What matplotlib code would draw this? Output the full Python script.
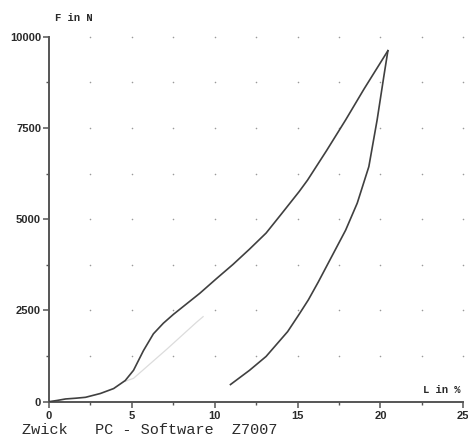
import numpy as np
import matplotlib
matplotlib.use("Agg")
import matplotlib.pyplot as plt
from matplotlib.ticker import MultipleLocator

# Elongation L in %, force F in N
load_x = [0.0, 0.5, 1.0, 1.6, 2.2, 3.1, 3.9, 4.6, 5.1, 5.7, 6.3, 6.9, 7.5, 8.3,
          9.1, 10.1, 11.1, 12.1, 13.1, 14.0, 15.1, 15.6, 16.75, 17.9, 19.0, 20.45]
load_f = [0, 35, 75, 95, 120, 225, 360, 580, 860, 1400, 1860, 2150, 2390, 2680,
          2970, 3370, 3760, 4180, 4620, 5130, 5760, 6070, 6880, 7720, 8560, 9616]

unload_x = [20.45, 20.2, 19.8, 19.3, 18.6, 17.9, 16.25, 15.65, 15.1, 14.4,
            13.1, 12.1, 10.95]
unload_f = [9616, 8900, 7720, 6440, 5440, 4700, 3280, 2790, 2400, 1920,
            1240, 860, 470]

# faint secant line in the elastic region
secant_x = [4.6, 5.1, 7.1, 8.9, 9.3]
secant_f = [560, 640, 1435, 2176, 2330]

y_ticks = [0, 2500, 5000, 7500, 10000]
x_ticks = [0, 5, 10, 15, 20, 25]

fig = plt.figure(figsize=(4.68, 4.37), dpi=100)
ax = fig.add_axes([49 / 468, 1 - 401.7 / 437, (463.3 - 49) / 468, (401.7 - 36.7) / 437])
ax.set_xlim(0, 25)
ax.set_ylim(0, 10000)

line_col = "#404040"
ax.plot(secant_x, secant_f, color="#dcdcdc", lw=0.9, zorder=2)
ax.plot(load_x, load_f, color=line_col, lw=1.2, zorder=3, solid_joinstyle="round")
ax.plot(unload_x, unload_f, color=line_col, lw=1.2, zorder=3, solid_joinstyle="round")

# dotted grid: one dot per grid crossing
gx, gy = np.meshgrid(np.arange(2.5, 25.01, 2.5), np.arange(1250, 10000.1, 1250))
ax.scatter(gx.ravel(), gy.ravel(), s=1.3, color="#9a9a9a", lw=0, zorder=1, clip_on=False)

for s in ["top", "right"]:
    ax.spines[s].set_visible(False)
for s in ["left", "bottom"]:
    ax.spines[s].set_color("#555555")
    ax.spines[s].set_linewidth(1.4)

ax.set_xticks(x_ticks)
ax.set_yticks(y_ticks)
ax.set_yticklabels([str(v) for v in y_ticks])
ax.set_xticklabels([str(v) for v in x_ticks])
ax.xaxis.set_minor_locator(MultipleLocator(2.5))
ax.yaxis.set_minor_locator(MultipleLocator(1250))
ax.tick_params(axis="both", which="major", direction="out", length=4, width=1.1,
               color="#555555", labelcolor="#2a2a2a", labelsize=8)
ax.tick_params(axis="both", which="minor", direction="out", length=2, width=1.0,
               color="#555555")
ax.tick_params(axis="y", pad=1.7)
ax.tick_params(axis="x", pad=3)
for lab in ax.get_xticklabels() + ax.get_yticklabels():
    lab.set_fontfamily("Liberation Sans")
    lab.set_fontweight("bold")

mono = "Liberation Mono"
fig.text(55 / 468, 1 - 18 / 437, "F in N", fontsize=7.6, family=mono,
         fontweight="bold", color="#2a2a2a", va="center", ha="left")
fig.text(423 / 468, 1 - 390 / 437, "L in %", fontsize=7.6, family=mono,
         fontweight="bold", color="#2a2a2a", va="center", ha="left")
fig.text(22 / 468, 1 - 430.5 / 437, "Zwick   PC - Software  Z7007", fontsize=11,
         family=mono, color="#2a2a2a", va="center", ha="left")

fig.savefig("out.png", dpi=100, facecolor="white")
